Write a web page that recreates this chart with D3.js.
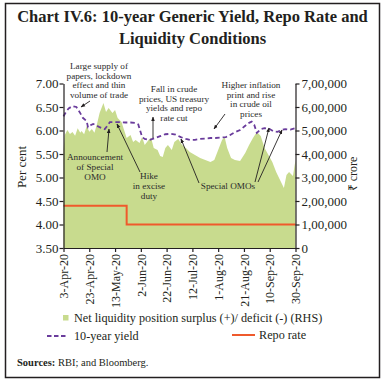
<!DOCTYPE html>
<html><head><meta charset="utf-8">
<script src="https://cdn.jsdelivr.net/npm/d3@7"></script>
<style>
body{margin:0;background:#fff;}
svg{display:block;font-family:"Liberation Serif","Times New Roman",serif;}
</style></head>
<body><svg id="c" width="385" height="383"></svg>
<script>
// ---- data ----
const liqDates = ["2020-04-03","2020-04-04","2020-04-06","2020-04-08","2020-04-10","2020-04-12","2020-04-14","2020-04-16","2020-04-17","2020-04-19","2020-04-21","2020-04-23","2020-04-25","2020-04-27","2020-04-29","2020-05-01","2020-05-04","2020-05-06","2020-05-08","2020-05-11","2020-05-13","2020-05-15","2020-05-18","2020-05-20","2020-05-22","2020-05-25","2020-05-27","2020-05-29","2020-06-01","2020-06-03","2020-06-05","2020-06-08","2020-06-10","2020-06-12","2020-06-15","2020-06-17","2020-06-19","2020-06-21","2020-06-23","2020-06-26","2020-06-28","2020-07-01","2020-07-04","2020-07-07","2020-07-10","2020-07-14","2020-07-18","2020-07-22","2020-07-26","2020-07-29","2020-08-01","2020-08-04","2020-08-06","2020-08-08","2020-08-11","2020-08-14","2020-08-18","2020-08-22","2020-08-25","2020-08-28","2020-08-31","2020-09-03","2020-09-06","2020-09-09","2020-09-12","2020-09-15","2020-09-18","2020-09-21","2020-09-23","2020-09-25","2020-09-28","2020-09-30"];
const liqValues = [417000,481000,502000,485000,494000,478000,510000,490000,498000,484000,519000,495000,506000,490000,528000,574000,617000,579000,596000,574000,587000,553000,536000,502000,468000,481000,451000,460000,447000,472000,438000,460000,468000,426000,417000,391000,387000,426000,438000,417000,451000,464000,438000,426000,409000,396000,383000,374000,366000,374000,417000,460000,472000,426000,383000,374000,370000,404000,438000,468000,494000,477000,426000,396000,366000,323000,289000,255000,311000,323000,306000,374000];

const yieldDates = ["2020-04-03","2020-04-05","2020-04-07","2020-04-10","2020-04-13","2020-04-16","2020-04-18","2020-04-21","2020-04-22","2020-04-24","2020-04-26","2020-04-29","2020-05-01","2020-05-05","2020-05-07","2020-05-09","2020-05-13","2020-05-17","2020-05-21","2020-05-25","2020-05-29","2020-05-31","2020-06-02","2020-06-03","2020-06-05","2020-06-09","2020-06-13","2020-06-17","2020-06-21","2020-06-25","2020-06-29","2020-07-03","2020-07-07","2020-07-10","2020-07-14","2020-07-18","2020-07-22","2020-07-26","2020-07-30","2020-08-03","2020-08-07","2020-08-10","2020-08-13","2020-08-18","2020-08-22","2020-08-24","2020-08-27","2020-08-29","2020-08-31","2020-09-03","2020-09-06","2020-09-10","2020-09-13","2020-09-16","2020-09-19","2020-09-22","2020-09-26","2020-09-30"];
const yieldValues = [6.30,6.40,6.47,6.52,6.50,6.37,6.27,6.20,6.07,6.11,6.14,6.10,6.07,6.03,6.10,6.18,6.18,6.18,6.17,6.17,6.16,6.13,5.95,5.86,5.82,5.80,5.84,5.88,5.92,5.93,5.91,5.86,5.82,5.80,5.80,5.82,5.83,5.84,5.84,5.85,5.86,5.90,5.95,6.01,6.10,6.15,6.19,6.12,5.95,6.03,6.05,6.03,5.98,5.97,6.01,6.03,6.02,6.05];

const repoDates = ["2020-04-03","2020-05-22","2020-09-30"];
const repoValues = [4.40,4.00,4.00];

const xTickDates = ["2020-04-03","2020-04-23","2020-05-13","2020-06-02","2020-06-22","2020-07-12","2020-08-01","2020-08-21","2020-09-10","2020-09-30"];
const leftTicks = [3.5,4.0,4.5,5.0,5.5,6.0,6.5,7.0];
const rightTicks = [0,100000,200000,300000,400000,500000,600000,700000];

// ---- setup ----
const parse = d3.timeParse("%Y-%m-%d");
const fmtDate = d3.timeFormat("%-d-%b-%y");
const svg = d3.select("#c");
const L = 63.5, R = 295.5, T = 83.5, B = 248;

const x = d3.scaleTime().domain([parse("2020-04-03"), parse("2020-09-30")]).range([L, R]);
const yL = d3.scaleLinear().domain([3.5, 7]).range([B, T]);
const yR = d3.scaleLinear().domain([0, 700000]).range([B, T]);

const liq = liqDates.map((d,i)=>({d:parse(d), v:liqValues[i]}));
const yld = yieldDates.map((d,i)=>({d:parse(d), v:yieldValues[i]}));
const repo = repoDates.map((d,i)=>({d:parse(d), v:repoValues[i]}));

const green = "#c8db8e", purple = "#6a3c9c", red = "#ef5a2c", ink = "#231f20";

// frame
svg.append("rect").attr("x",5.5).attr("y",3.5).attr("width",374).attr("height",374)
  .attr("fill","none").attr("stroke",ink).attr("stroke-width",1.5);

// title
const title = svg.append("text").attr("text-anchor","middle").attr("font-weight","bold")
  .attr("font-size",16.5).attr("fill",ink);
title.append("tspan").attr("x",192.5).attr("y",22).text("Chart IV.6: 10-year Generic Yield, Repo Rate and");
title.append("tspan").attr("x",192.5).attr("y",44).text("Liquidity Conditions");

// area
svg.append("path").datum(liq)
  .attr("fill",green)
  .attr("d", d3.area().x(d=>x(d.d)).y0(yR(0)).y1(d=>yR(d.v)));

// repo
svg.append("path").datum(repo).attr("fill","none").attr("stroke",red).attr("stroke-width",2)
  .attr("d", d3.line().x(d=>x(d.d)).y(d=>yL(d.v)).curve(d3.curveStepAfter));

// yield
svg.append("path").datum(yld).attr("fill","none").attr("stroke",purple).attr("stroke-width",1.8)
  .attr("stroke-dasharray","4.5,3")
  .attr("d", d3.line().x(d=>x(d.d)).y(d=>yL(d.v)));

// axes
const axL = svg.append("g").attr("transform",`translate(${L},0)`)
  .call(d3.axisLeft(yL).tickValues(leftTicks).tickFormat(d3.format(".2f")).tickSize(4).tickSizeOuter(0));
const indian = v => v===0 ? "0" : (v/100000)+",00,000";
const axR = svg.append("g").attr("transform",`translate(${R},0)`)
  .call(d3.axisRight(yR).tickValues(rightTicks).tickFormat(indian).tickSize(4).tickSizeOuter(0));
const axB = svg.append("g").attr("transform",`translate(0,${B})`)
  .call(d3.axisBottom(x).tickValues(xTickDates.map(parse)).tickFormat(fmtDate).tickSize(4).tickSizeOuter(0));
[axL,axR,axB].forEach(a=>{
  a.selectAll("path,line").attr("stroke",ink).attr("stroke-width",1.2);
  a.selectAll("text").attr("font-family","Liberation Serif, serif").attr("fill",ink);
});
axL.selectAll("text").attr("font-size",13).attr("x",-5);
axR.selectAll("text").attr("font-size",13).attr("x",6);
axB.selectAll("text").attr("font-size",12)
  .attr("transform","rotate(-90)").attr("text-anchor","end")
  .attr("x",-6).attr("y",0).attr("dy","0.35em");

// axis titles
svg.append("text").attr("transform","translate(26,167) rotate(-90)").attr("text-anchor","middle")
  .attr("font-size",13).attr("fill",ink).text("Per cent");
svg.append("text").attr("transform","translate(357,174) rotate(-90)").attr("text-anchor","middle")
  .attr("font-size",12).attr("fill",ink).text("₹ crore");

// annotations
svg.append("defs").append("marker").attr("id","ah").attr("viewBox","0 0 10 10")
  .attr("refX",9).attr("refY",5).attr("markerWidth",5).attr("markerHeight",5).attr("orient","auto")
  .append("path").attr("d","M0,1L10,5L0,9z").attr("fill",ink);

function note(lines, cx, y0, lh){
  const t = svg.append("text").attr("text-anchor","middle").attr("font-size",9.2).attr("fill","#2b2b2b");
  lines.forEach((s,i)=>t.append("tspan").attr("x",cx).attr("y",y0+i*lh).text(s));
}
function arrow(x1,y1,x2,y2){
  svg.append("line").attr("x1",x1).attr("y1",y1).attr("x2",x2).attr("y2",y2)
    .attr("stroke",ink).attr("stroke-width",0.9).attr("marker-end","url(#ah)");
}
note(["Large supply of","papers, lockdown","effect and thin","volume of trade"], 99, 69, 9.6);
arrow(90,101,81,107);
note(["Fall in crude","prices, US treasury","yields and repo","rate cut"], 174, 92, 9.6);
arrow(153,138,153,117);
note(["Higher inflation","print and rise","in crude oil","prices"], 251, 88, 9.6);
arrow(225,114,214,129);
note(["Announcement","of Special","OMO"], 95, 160, 10);
arrow(107,152,109,129);
note(["Hike","in excise","duty"], 149, 179, 9.8);
arrow(140,172,117,124);
note(["Special OMOs"], 228, 189, 10);
arrow(199,183,181,139);
arrow(255,182,269,128);
arrow(258,182,282,130);

// legend
svg.append("rect").attr("x",63).attr("y",315).attr("width",5.5).attr("height",5.5).attr("fill",green);
svg.append("text").attr("x",74).attr("y",322).attr("font-size",12.2).attr("fill",ink)
  .text("Net liquidity position surplus (+)/ deficit (-) (RHS)");
svg.append("line").attr("x1",47).attr("x2",67).attr("y1",336).attr("y2",336)
  .attr("stroke",purple).attr("stroke-width",2).attr("stroke-dasharray","4.5,2.5");
svg.append("text").attr("x",74).attr("y",340).attr("font-size",12.2).attr("fill",ink).text("10-year yield");
svg.append("line").attr("x1",232).attr("x2",255).attr("y1",335).attr("y2",335)
  .attr("stroke",red).attr("stroke-width",2);
svg.append("text").attr("x",259).attr("y",339).attr("font-size",12.2).attr("fill",ink).text("Repo rate");

// sources
const src = svg.append("text").attr("x",17).attr("y",366).attr("font-size",10.5).attr("fill",ink);
src.append("tspan").attr("font-weight","bold").text("Sources: ");
src.append("tspan").text("RBI; and Bloomberg.");
</script></body></html>
